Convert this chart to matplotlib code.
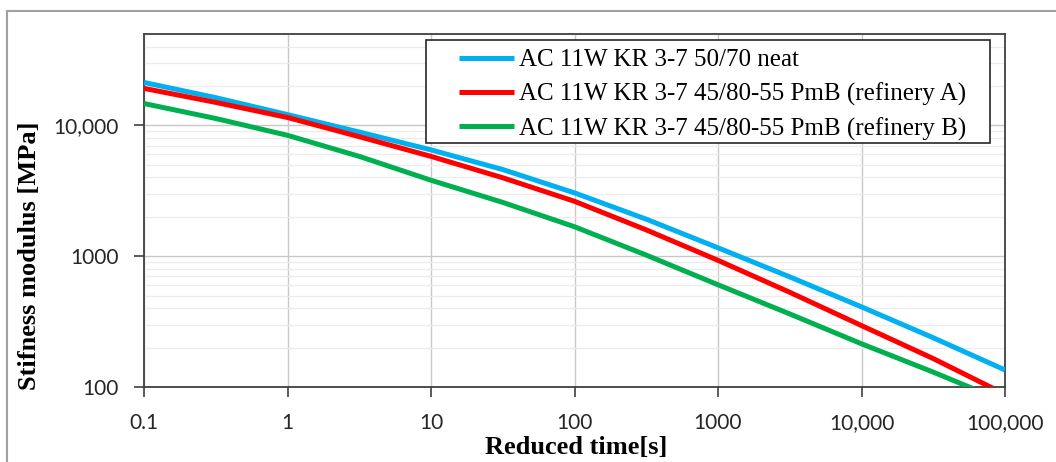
import numpy as np
import matplotlib
matplotlib.use('Agg')
import matplotlib.pyplot as plt
from matplotlib.lines import Line2D
from matplotlib.patches import Rectangle
from matplotlib.ticker import FixedLocator, NullFormatter

# reduced time [s] and stiffness modulus [MPa]
t = [0.1, 0.316, 1, 3.16, 10, 31.6, 100, 316, 1000, 3162, 10000, 31623, 100000]
neat = [21300, 16300, 12100, 8900, 6500, 4600, 3050, 1920, 1160, 695, 410, 238, 135]
pmb_a = [19200, 15000, 11500, 8200, 5800, 3980, 2630, 1590, 930, 530, 295, 165, 88]
pmb_b = [14700, 11300, 8400, 5800, 3810, 2580, 1680, 1020, 605, 362, 214, 130, 77]

labels = ['AC 11W KR 3-7 50/70 neat',
          'AC 11W KR 3-7 45/80-55 PmB (refinery A)',
          'AC 11W KR 3-7 45/80-55 PmB (refinery B)']
colors = ['#00B0F0', '#FF0000', '#00B050']

xticks = [0.1, 1, 10, 100, 1000, 10000, 100000]
xticklabels = ['0.1', '1', '10', '100', '1000', '10,000', '100,000']
yticks = [100, 1000, 10000]
yticklabels = ['100', '1000', '10,000']

serif = ['Liberation Serif', 'DejaVu Serif']
sans = ['Lato', 'DejaVu Sans']

fig = plt.figure(figsize=(10.56, 4.62), dpi=100)
ax = fig.add_axes([0.1364, 0.1623, 0.8153, 0.7641])

for y, c, lab in zip([neat, pmb_a, pmb_b], colors, labels):
    ax.plot(t, y, color=c, lw=3.6, label=lab, solid_capstyle='butt', zorder=3)

ax.set_xscale('log')
ax.set_yscale('log')
ax.set_xlim(0.1, 100000)
ax.set_ylim(100, 50000)

ax.set_xticks(xticks)
ax.set_xticklabels(xticklabels, family=sans, fontsize=15, color='#262626')
ax.set_yticks(yticks)
ax.set_yticklabels(yticklabels, family=sans, fontsize=15, color='#262626')
ax.xaxis.set_minor_locator(FixedLocator([]))
minor_y = [m * 10 ** e for e in range(2, 5) for m in range(2, 10)]
ax.yaxis.set_minor_locator(FixedLocator(minor_y))
ax.yaxis.set_minor_formatter(NullFormatter())
ax.tick_params(which='major', direction='out', length=7, width=1.2, color='#404040')
ax.tick_params(axis='x', pad=12)
ax.tick_params(axis='y', pad=11)
ax.tick_params(which='minor', length=0)

ax.grid(True, which='major', axis='both', color='#c8c8c8', lw=1.0, zorder=0)
ax.grid(True, which='minor', axis='y', color='#ececec', lw=0.9, zorder=0)
ax.set_axisbelow(True)

for s in ax.spines.values():
    s.set_color('#404040')
    s.set_linewidth(1.3)

ax.set_ylabel('Stifness modulus [MPa]', family=serif, fontsize=19, fontweight='bold')
ax.yaxis.set_label_coords(-0.12, 0.372)
ax.set_xlabel('Reduced time[s]', family=serif, fontsize=19, fontweight='bold')
ax.xaxis.set_label_coords(0.502, -0.14)

# legend box drawn separately so the side padding can be wider than the top one
ax.add_patch(Rectangle((0.3275, 0.691), 0.655, 0.292, transform=ax.transAxes,
                       fc='white', ec='#262626', lw=1.2, zorder=4))
leg = ax.legend(loc='upper left', bbox_to_anchor=(0.366, 0.958),
                prop={'family': serif, 'size': 18}, frameon=False,
                handlelength=2.2, handletextpad=0.2, labelspacing=0.45,
                borderpad=0, borderaxespad=0)
leg.set_zorder(5)

# outer frame of the figure panel
fig.add_artist(Line2D([7 / 1056, 7 / 1056], [0, 1 - 11 / 462], color='#a0a0a0', lw=1.5))
fig.add_artist(Line2D([7 / 1056, 1], [1 - 11 / 462, 1 - 11 / 462], color='#a0a0a0', lw=1.5))

fig.savefig('out.png', dpi=100)
